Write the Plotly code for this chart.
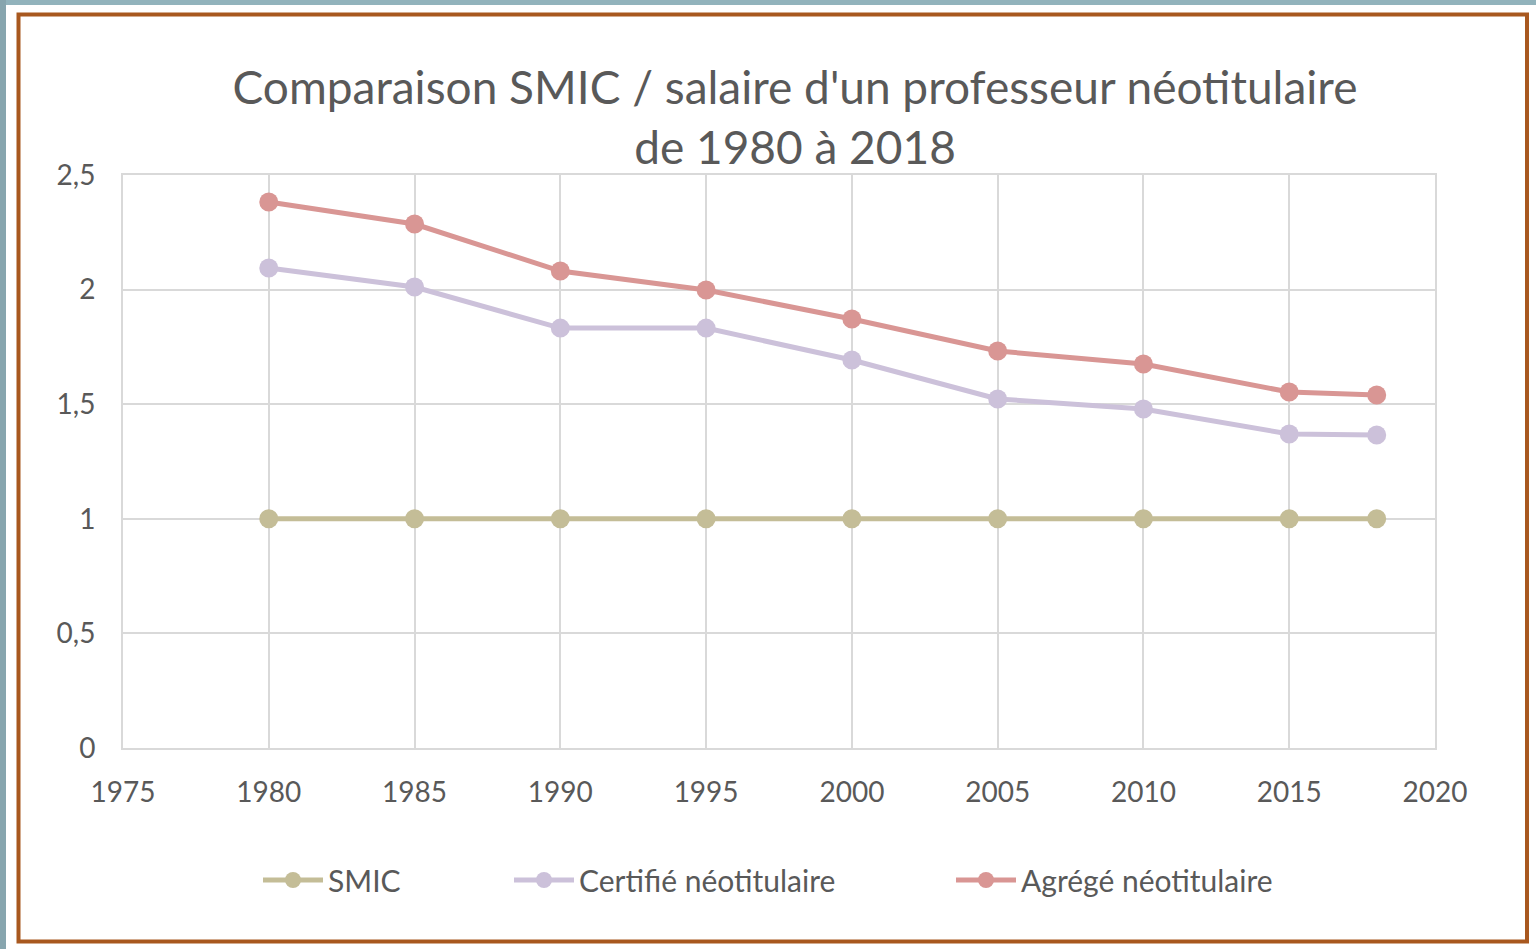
import plotly.graph_objects as go

years = [1980, 1985, 1990, 1995, 2000, 2005, 2010, 2015, 2018]
smic = [1, 1, 1, 1, 1, 1, 1, 1, 1]
certifie = [2.094, 2.011, 1.832, 1.832, 1.693, 1.523, 1.479, 1.370, 1.366]
agrege = [2.382, 2.286, 2.081, 1.998, 1.872, 1.732, 1.675, 1.553, 1.540]
names = ["SMIC", "Certifié néotitulaire", "Agrégé néotitulaire"]
colors = ["#C4BD97", "#CCC1DA", "#D99694"]
legend_widths = [176, 367, 270]
title_text = "Comparaison SMIC / salaire d'un professeur néotitulaire<br>de 1980 à 2018"

W, H = 1536, 949
L, R, T, B = 123, 1435, 175, 748

def px(x):
    return (x - L) / (R - L)

def py(y):
    return (B - y) / (B - T)

fig = go.Figure()
for name, vals, c, lw in zip(names, [smic, certifie, agrege], colors, legend_widths):
    fig.add_trace(go.Scatter(
        x=years, y=vals, name=name, mode="lines+markers",
        line=dict(color=c, width=5),
        marker=dict(color=c, size=19),
        legendwidth=lw,
    ))

font = "Lato, 'Open Sans', sans-serif"
txt = "#595959"

shapes = [
    dict(type="rect", xref="paper", yref="paper", x0=px(0), x1=px(W), y0=py(0), y1=py(5),
         fillcolor="#92B3BC", line=dict(width=0), layer="below"),
    dict(type="rect", xref="paper", yref="paper", x0=px(0), x1=px(6), y0=py(0), y1=py(H),
         fillcolor="#87A5AE", line=dict(width=0), layer="below"),
    dict(type="rect", xref="paper", yref="paper", x0=px(18.5), x1=px(1527), y0=py(14.5), y1=py(941.5),
         fillcolor="rgba(0,0,0,0)", line=dict(color="#A8581F", width=4), layer="below"),
]

fig.update_layout(
    width=W, height=H,
    margin=dict(l=L, r=W - R, t=T, b=H - B),
    paper_bgcolor="white", plot_bgcolor="white",
    separators=", ",
    font=dict(family=font, color=txt, size=28),
    title=dict(text=title_text, x=795 / W, xanchor="center", xref="container",
               y=1 - 104 / H, yanchor="middle", yref="container",
               font=dict(size=46, color=txt, family=font)),
    xaxis=dict(range=[1975, 2020], dtick=5, tick0=1975, showgrid=True, gridcolor="#D9D9D9",
               gridwidth=2, showline=True, linecolor="#D9D9D9", linewidth=2, mirror=True,
               zeroline=False, ticks="", ticklabelstandoff=18,
               tickfont=dict(size=28, color=txt, family=font)),
    yaxis=dict(range=[0, 2.5], dtick=0.5, showgrid=True, gridcolor="#D9D9D9", gridwidth=2,
               showline=True, linecolor="#D9D9D9", linewidth=2, mirror=True,
               zeroline=False, ticks="", ticklabelstandoff=20,
               tickfont=dict(size=28, color=txt, family=font)),
    legend=dict(orientation="h", x=258 / W, xanchor="left", xref="container",
                y=1 - 880 / H, yanchor="middle", yref="container",
                font=dict(size=30, color=txt, family=font),
                itemwidth=60, traceorder="normal"),
    shapes=shapes,
)

fig.write_html("out.html", config={"displayModeBar": False},
               post_script="document.body.style.margin='0px';")
